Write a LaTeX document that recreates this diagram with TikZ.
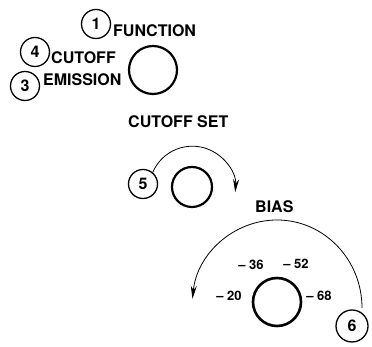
\documentclass[tikz,border=0pt]{standalone}
\usepackage{fontspec}
\setmainfont{TeX Gyre Heros}
\usetikzlibrary{arrows.meta}
\begin{document}
\begin{tikzpicture}[x=1pt,y=1pt,
  callout/.style={circle,draw,line width=1.3pt,minimum size=29pt,inner sep=0pt,
    font=\fontsize{16}{16}\selectfont\bfseries},
  knob/.style={circle,draw,line width=2.2pt,inner sep=0pt},
  caption/.style={inner sep=0pt,anchor=base west,font=\fontsize{16}{16}\selectfont\bfseries},
  dialmark/.style={inner sep=0pt,font=\fontsize{13}{14}\selectfont\bfseries},
  turn/.style={line width=0.8pt,-{Stealth[length=13pt,width=6pt]}}]
\useasboundingbox (0,0) rectangle (372,347);

% function / cutoff / emission selector
\node[callout] (c1) at (96,323) {1};
\node[caption] (function) at (113,310) {FUNCTION};
\node[callout] (c4) at (35,295) {4};
\node[caption] (cutoff) at (51,283) {CUTOFF};
\node[callout] (c3) at (25,261) {3};
\node[caption] (emission) at (43,261) {EMISSION};
\node[knob,minimum size=48pt] (k1) at (153,277) {};

% cutoff set control
\node[caption] (cutset) at (128,219) {CUTOFF SET};
\node[callout] (c5) at (143,163) {5};
\node[knob,minimum size=40pt] (k2) at (192,160) {};
\draw[turn] (c5.50) arc[start angle=157,end angle=-4,radius=43pt];

% bias control
\node[caption] (bias) at (255,134) {BIAS};
\node[knob,minimum size=48pt,line width=2.6pt] (k3) at (277,45) {};
\node[dialmark] (m36) at (251,82) {-- 36};
\node[dialmark] (m52) at (296,83) {-- 52};
\node[dialmark] (m20) at (229,51) {-- 20};
\node[dialmark] (m68) at (319,51) {-- 68};
\node[callout,minimum size=32pt] (c6) at (352,21) {6};
\coordinate (b0) at (362,39);
\draw[turn] (b0) arc[start angle=0,end angle=174,x radius=85pt,y radius=88pt];
\end{tikzpicture}
\end{document}
